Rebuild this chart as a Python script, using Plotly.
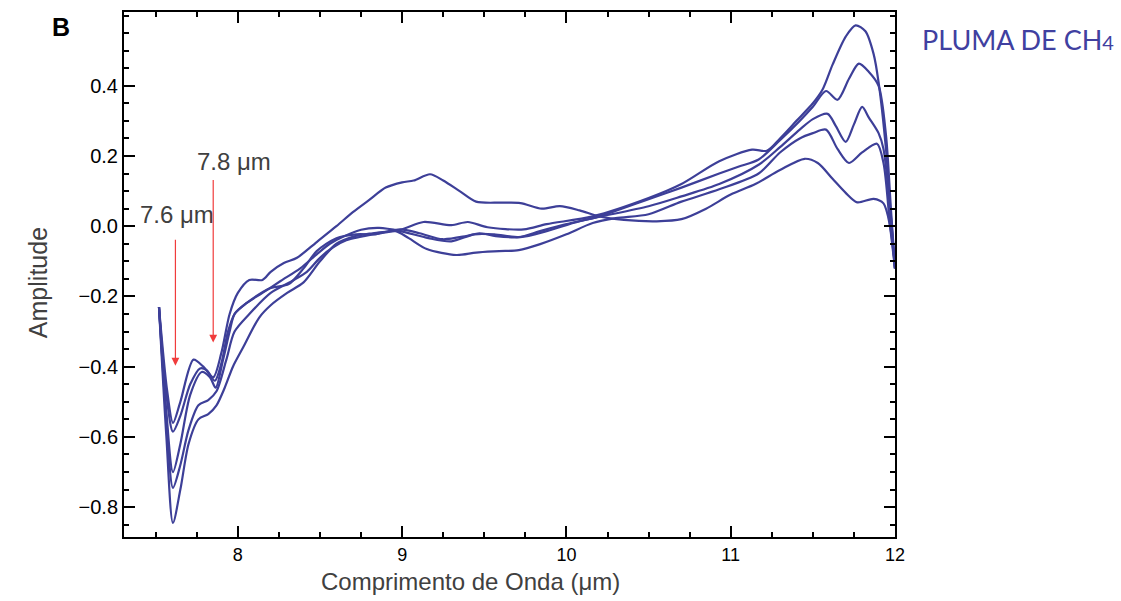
import plotly.graph_objects as go

# ---------------- data ----------------
x_c1 = [7.52, 7.565, 7.605, 7.65, 7.70, 7.76, 7.82, 7.87, 7.92, 7.97, 8.03, 8.13, 8.20, 8.30, 8.40,
        8.50, 8.60, 8.70, 8.82, 8.99, 9.13, 9.30, 9.40, 9.52, 9.74, 9.88, 10.16, 10.50, 10.70, 10.93,
        11.13, 11.22, 11.30, 11.40, 11.50, 11.56, 11.62, 11.70, 11.76, 11.82, 11.87, 11.90, 11.945, 11.975, 12.0]
y_c1 = [-0.23, -0.60, -0.845, -0.75, -0.62, -0.55, -0.535, -0.51, -0.46, -0.40, -0.347, -0.26, -0.225, -0.19, -0.16,
        -0.10, -0.05, -0.03, -0.02, -0.01, 0.012, 0.003, 0.012, -0.003, -0.009, 0.006, 0.028, 0.08, 0.12, 0.185,
        0.218, 0.215, 0.25, 0.30, 0.35, 0.39, 0.46, 0.54, 0.572, 0.555, 0.49, 0.41, 0.22, 0.03, -0.12]

x_c2 = [7.52, 7.565, 7.605, 7.65, 7.70, 7.76, 7.82, 7.87, 7.93, 7.98, 8.07, 8.20, 8.33, 8.42, 8.50,
        8.58, 8.66, 8.75, 8.86, 8.99, 9.106, 9.246, 9.39, 9.47, 9.57, 9.71, 9.84, 10.0, 10.2, 10.5,
        10.7, 10.93, 11.05, 11.17, 11.30, 11.42, 11.50, 11.58, 11.65, 11.72, 11.78, 11.84, 11.90, 11.945, 11.975, 12.0]
y_c2 = [-0.23, -0.55, -0.745, -0.68, -0.58, -0.51, -0.495, -0.47, -0.38, -0.30, -0.25, -0.19, -0.156, -0.13, -0.09,
        -0.06, -0.04, -0.03, -0.02, -0.009, -0.02, -0.037, -0.028, -0.02, -0.028, -0.031, -0.014, 0.006, 0.028, 0.077,
        0.11, 0.15, 0.17, 0.19, 0.245, 0.30, 0.34, 0.385, 0.36, 0.42, 0.463, 0.44, 0.40, 0.26, 0.05, -0.12]

x_c3 = [7.52, 7.565, 7.605, 7.65, 7.71, 7.78, 7.83, 7.865, 7.91, 7.95, 7.98, 8.05, 8.15, 8.26, 8.38,
        8.48, 8.56, 8.64, 8.75, 8.86, 8.99, 9.16, 9.30, 9.44, 9.56, 9.72, 9.88, 10.08, 10.5, 10.7,
        10.93, 11.17, 11.30, 11.42, 11.50, 11.59, 11.64, 11.70, 11.75, 11.80, 11.84, 11.90, 11.93, 11.97, 12.0]
y_c3 = [-0.23, -0.53, -0.70, -0.62, -0.48, -0.415, -0.43, -0.46, -0.38, -0.30, -0.25, -0.22, -0.19, -0.156, -0.12,
        -0.08, -0.05, -0.03, -0.01, -0.005, -0.014, -0.034, -0.043, -0.023, -0.023, -0.031, -0.014, 0.014, 0.057, 0.085,
        0.12, 0.175, 0.225, 0.275, 0.305, 0.32, 0.285, 0.24, 0.29, 0.34, 0.31, 0.265, 0.22, 0.05, -0.12]

x_c4 = [7.52, 7.565, 7.605, 7.65, 7.71, 7.77, 7.81, 7.86, 7.90, 7.94, 7.98, 8.05, 8.20, 8.31, 8.40,
        8.48, 8.60, 8.72, 8.84, 8.96, 9.04, 9.15, 9.33, 9.45, 9.59, 9.71, 9.84, 10.0, 10.16, 10.3,
        10.5, 10.7, 10.93, 11.17, 11.30, 11.42, 11.50, 11.58, 11.65, 11.72, 11.80, 11.89, 11.93, 11.97, 12.0]
y_c4 = [-0.23, -0.48, -0.585, -0.54, -0.45, -0.405, -0.41, -0.44, -0.39, -0.30, -0.25, -0.22, -0.176, -0.165, -0.12,
        -0.071, -0.034, -0.023, -0.023, -0.014, -0.034, -0.065, -0.082, -0.075, -0.071, -0.068, -0.051, -0.023, 0.009, 0.023,
        0.034, 0.07, 0.105, 0.15, 0.21, 0.25, 0.265, 0.275, 0.22, 0.18, 0.21, 0.235, 0.18, 0.0, -0.12]

x_c5 = [7.52, 7.57, 7.605, 7.65, 7.73, 7.79, 7.85, 7.90, 7.95, 8.0, 8.07, 8.15, 8.20, 8.28, 8.36,
        8.48, 8.60, 8.70, 8.80, 8.90, 9.0, 9.07, 9.17, 9.25, 9.35, 9.45, 9.60, 9.72, 9.85, 9.96,
        10.08, 10.20, 10.35, 10.55, 10.70, 10.85, 11.0, 11.15, 11.30, 11.45, 11.53, 11.62, 11.70, 11.77, 11.87, 11.93, 11.97, 12.0]
y_c5 = [-0.23, -0.47, -0.56, -0.50, -0.38, -0.40, -0.43, -0.36, -0.25, -0.19, -0.153, -0.153, -0.13, -0.105, -0.09,
        -0.045, 0.0, 0.04, 0.075, 0.11, 0.125, 0.13, 0.148, 0.13, 0.10, 0.07, 0.067, 0.066, 0.05, 0.057,
        0.045, 0.028, 0.018, 0.014, 0.02, 0.05, 0.09, 0.12, 0.16, 0.192, 0.18, 0.135, 0.095, 0.068, 0.078, 0.065, 0.0, -0.12]

series_x = [x_c1, x_c2, x_c3, x_c4, x_c5]
series_y = [y_c1, y_c2, y_c3, y_c4, y_c5]

x_ticks = [8, 9, 10, 11, 12]
y_ticks = [-0.8, -0.6, -0.4, -0.2, 0.0, 0.2, 0.4]

marker_labels = ["7.6 μm", "7.8 μm"]
marker_x = [7.62, 7.85]
marker_tail_y = [-0.034, 0.136]
marker_head_y = [-0.397, -0.331]
marker_label_x = [7.63, 7.976]
marker_label_y = [0.034, 0.184]

# ---------------- figure ----------------
LINE = "#3D3F98"
FONT = "Liberation Sans, Arial, Helvetica, sans-serif"
fig = go.Figure()
for xs, ys in zip(series_x, series_y):
    fig.add_trace(go.Scatter(x=xs, y=ys, mode="lines",
                             line=dict(color=LINE, width=2.2, shape="spline", smoothing=0.8),
                             showlegend=False, hoverinfo="skip"))

axis_common = dict(showline=True, linecolor="black", linewidth=2, mirror="ticks",
                   ticks="inside", tickcolor="black", tickwidth=2, ticklen=11,
                   showgrid=False, zeroline=False)

fig.update_xaxes(range=[7.307, 12.0], tickvals=x_ticks, ticktext=[str(v) for v in x_ticks],
                 tickfont=dict(family=FONT, size=18, color="black"),
                 minor=dict(dtick=0.25, tick0=0, ticks="inside", ticklen=5, tickwidth=2, tickcolor="black"),
                 **axis_common)
fig.update_yaxes(range=[-0.885, 0.61], tickvals=y_ticks, tickformat=".1f",
                 tickfont=dict(family=FONT, size=20, color="black"),
                 minor=dict(dtick=0.05, tick0=0, ticks="inside", ticklen=5, tickwidth=2, tickcolor="black"),
                 **axis_common)

for lab, xm, yt, yh, lx, ly in zip(marker_labels, marker_x, marker_tail_y, marker_head_y, marker_label_x, marker_label_y):
    fig.add_annotation(x=xm, y=yh, ax=xm, ay=yt, xref="x", yref="y", axref="x", ayref="y",
                       text="", showarrow=True, arrowhead=2, arrowsize=1.3, arrowwidth=1.2,
                       arrowcolor="#F03C3C")
    fig.add_annotation(x=lx, y=ly, xref="x", yref="y", text=lab, showarrow=False,
                       font=dict(family=FONT, size=24, color="#404040"))

fig.add_annotation(x=-0.132, y=0.484, xref="paper", yref="paper", text="Amplitude", textangle=-90,
                   showarrow=False, font=dict(family=FONT, size=25, color="#404040"))
fig.add_annotation(x=0.449, y=-0.085, xref="paper", yref="paper", yanchor="middle",
                   text="Comprimento de Onda (μm)", showarrow=False,
                   font=dict(family=FONT, size=24, color="#404040"))
fig.add_annotation(x=-0.096, y=0.9715, xref="paper", yref="paper", yanchor="middle", text="<b>B</b>",
                   showarrow=False, font=dict(family=FONT, size=25, color="black"))
fig.add_annotation(x=1.0324, y=0.948, xref="paper", yref="paper", xanchor="left", yanchor="middle",
                   text="PLUMA DE CH<span style='font-size:20px'>4</span>", showarrow=False,
                   font=dict(family="Lato, Open Sans, sans-serif", size=27, color="#4040A0"))

fig.update_layout(width=1121, height=601, margin=dict(l=124, r=226, t=10, b=64),
                  plot_bgcolor="white", paper_bgcolor="white")
fig.write_html("out.html", config={"displayModeBar": False},
               post_script="document.body.style.margin='0px';")
